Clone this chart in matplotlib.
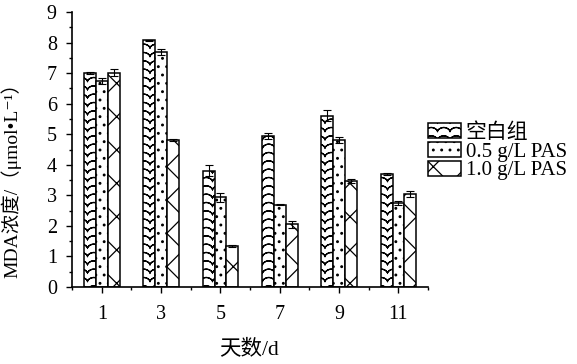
import numpy as np
import matplotlib
matplotlib.use("Agg")
import matplotlib.pyplot as plt
from matplotlib import hatch as mhatch
from matplotlib.path import Path

# data
days = ["1", "3", "5", "7", "9", "11"]
groups = ["空白组", "0.5 g/L PAS", "1.0 g/L PAS"]
blank = [7.00, 8.07, 3.80, 4.93, 5.60, 3.70]
pas05 = [6.75, 7.68, 2.93, 2.70, 4.82, 2.75]
pas10 = [7.02, 4.80, 1.33, 2.05, 3.47, 3.03]
err_blank = [0.03, 0.03, 0.18, 0.10, 0.18, 0.03]
err_pas05 = [0.10, 0.10, 0.15, 0.03, 0.10, 0.08]
err_pas10 = [0.12, 0.03, 0.03, 0.12, 0.08, 0.10]


class WaveHatch(mhatch.HatchPatternBase):
    # rows of small arches (wavy fill of the blank group)
    # each row goes forward and back along the same curve so agg's fill adds nothing
    def __init__(self, hatch, density):
        self.num_rows = int(hatch.count('~') * density * 2)
        self.num_pts = 129
        self.num_vertices = self.num_rows * self.num_pts * 2

    def set_vertices_and_codes(self, vertices, codes):
        if self.num_rows == 0:
            return
        x = np.linspace(0.0, 1.0, self.num_pts)
        xx = np.concatenate([x, x[::-1]])
        amp = 0.45 / self.num_rows
        n = self.num_pts * 2
        for i in range(self.num_rows):
            y0 = i / self.num_rows + 0.25 / self.num_rows
            sl = slice(i * n, (i + 1) * n)
            vertices[sl, 0] = xx
            vertices[sl, 1] = y0 + amp * np.abs(np.sin(np.pi * xx * 8)) ** 0.6
            codes[sl] = Path.LINETO
            codes[i * n] = Path.MOVETO


mhatch._hatch_types.append(WaveHatch)

plt.rcParams['font.family'] = ['Liberation Serif', 'Noto Sans CJK SC', 'DejaVu Serif', 'DejaVu Sans']
plt.rcParams['hatch.linewidth'] = 0.9
plt.rcParams['axes.unicode_minus'] = False

fig = plt.figure(figsize=(5.77, 3.64), dpi=100)
ax = fig.add_axes([0.125, 0.2115, 0.617, 0.7555])

x = np.arange(len(days)) + 0.5
w = 0.2
series = [blank, pas05, pas10]
errs = [err_blank, err_pas05, err_pas10]
hatches = ['~', '..', 'x']
for k in range(3):
    ax.bar(x + (k - 1) * w, series[k], w, yerr=errs[k], color='white',
           edgecolor='black', linewidth=1.1, hatch=hatches[k], label=groups[k],
           error_kw=dict(ecolor='black', elinewidth=0.8, capsize=3, capthick=0.8))

ax.set_xlim(0, len(days))
ax.set_ylim(0, 9)
ax.set_xticks(x)
ax.set_xticklabels(days)
ax.set_xticks(np.arange(len(days) + 1), minor=True)
ax.set_yticks(np.arange(0, 10, 1))
ax.set_yticks(np.arange(0, 9.01, 0.5), minor=True)
ax.tick_params(axis='both', which='major', direction='out', length=4, width=1,
               labelsize=14.5)
ax.tick_params(axis='both', which='minor', direction='out', length=2.5, width=1)
ax.tick_params(axis='y', pad=7)
ax.tick_params(axis='x', pad=9)
for s in ['top', 'right']:
    ax.spines[s].set_visible(False)
for s in ['left', 'bottom']:
    ax.spines[s].set_linewidth(1.2)

ax.set_ylabel("MDA浓度/（μmol•L⁻¹）", fontsize=14)
ax.yaxis.set_label_coords(-0.143, 0.404)
ax.set_xlabel("天数/d", fontsize=15.5)
ax.xaxis.set_label_coords(0.497, -0.19)

ax.legend(loc='upper left', bbox_to_anchor=(1.0, 0.595), frameon=False,
          fontsize=15, borderpad=0, borderaxespad=0, handlelength=1.6,
          handleheight=0.72, labelspacing=-0.05, handletextpad=0.2)

fig.savefig("out.png", dpi=100)
